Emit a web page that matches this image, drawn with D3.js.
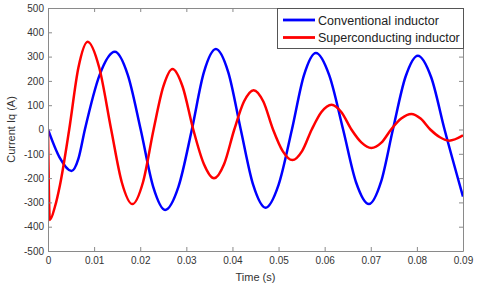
<!DOCTYPE html>
<html>
<head>
<meta charset="utf-8">
<script src="https://cdn.jsdelivr.net/npm/d3@7"></script>
<style>
  body { margin: 0; background: #fff; }
  .chart text { font-family: "Liberation Sans", Arial, sans-serif; }
</style>
</head>
<body>
<div class="chart"></div>
<script>
// values
const seriesNames = ["Conventional inductor", "Superconducting inductor"];
const seriesColors = ["#0000ff", "#ff0000"];

const tConventional = [0, 0.0025, 0.0051, 0.0066, 0.0080, 0.0112, 0.0145, 0.0173, 0.0201, 0.0228, 0.0254, 0.0283,
    0.0312, 0.0338, 0.0364, 0.0391, 0.0418, 0.0445, 0.0472, 0.0500, 0.0529, 0.0555, 0.0581, 0.0610,
    0.0640, 0.0668, 0.0696, 0.0722, 0.0748, 0.0775, 0.0802, 0.0831, 0.0860, 0.0900];
const iConventional = [0, -115, -171, -120, 0, 225, 320, 225, 0, -235, -331, -235,
    0, 235, 331, 235, 0, -228, -322, -228, 0, 223, 315, 223,
    0, -217, -307, -217, 0, 215, 304, 215, 0, -276];

const tSuper = [0, 0.0004, 0.0015, 0.0026, 0.0046, 0.0066, 0.0086, 0.0111, 0.0137, 0.0160, 0.0183, 0.0206,
    0.0229, 0.0250, 0.0270, 0.0292, 0.0315, 0.0338, 0.0360, 0.0382, 0.0404, 0.0425, 0.0446, 0.0467,
    0.0488, 0.0509, 0.0530, 0.0551, 0.0572, 0.0593, 0.0615, 0.0636, 0.0658, 0.0680, 0.0701, 0.0723,
    0.0744, 0.0766, 0.0788, 0.0808, 0.0829, 0.0850, 0.0870, 0.0900];
const iSuper = [0, -372, -318, -228, 0, 255, 361, 255, 0, -217, -307, -217,
    0, 176, 249, 176, 0, -142, -201, -142, 0, 115, 162, 115,
    0, -89, -126, -89, 0, 72, 102, 72, 0, -54, -76, -54,
    0, 45, 64, 45, 0, -32, -46, -24];

const xTicks = [0, 0.01, 0.02, 0.03, 0.04, 0.05, 0.06, 0.07, 0.08, 0.09];
const yTicks = [-500, -400, -300, -200, -100, 0, 100, 200, 300, 400, 500];

const margin = ({top: 8, right: 17, bottom: 33, left: 48});
const width = 480 - margin.left - margin.right,
    height = 284 - margin.top - margin.bottom;

const svg = d3.select(".chart").append("svg")
    .attr("width", width + margin.left + margin.right)
    .attr("height", height + margin.top + margin.bottom)
    .append("g")
    .attr("transform", "translate(" + margin.left + "," + margin.top + ")");

const xScale = d3.scaleLinear().domain([0, 0.09]).range([0, width]);
const yScale = d3.scaleLinear().domain([-500, 500]).range([height, 0]);

const data = [
    tConventional.map((t, i) => ({t: t, v: iConventional[i]})),
    tSuper.map((t, i) => ({t: t, v: iSuper[i]}))
];

svg.append("defs").append("clipPath").attr("id", "clip")
    .append("rect").attr("width", width).attr("height", height);

const line = d3.line()
    .x(d => xScale(d.t))
    .y(d => yScale(d.v))
    .curve(d3.curveMonotoneX);

svg.append("g").attr("clip-path", "url(#clip)")
    .selectAll(".curve")
    .data(data)
    .enter()
    .append("path")
    .attr("class", "curve")
    .attr("d", line)
    .attr("fill", "none")
    .attr("stroke", (d, i) => seriesColors[i])
    .attr("stroke-width", 2.5)
    .attr("stroke-linejoin", "round");

// axes, ticks pointing inwards like matlab
function styleAxis(g) {
    g.selectAll("path.domain").attr("stroke", "#8a8a8a");
    g.selectAll(".tick line").attr("stroke", "#8a8a8a");
    g.selectAll(".tick text")
        .attr("fill", "#333")
        .style("font-size", "10px")
        .style("font-family", '"Liberation Sans", Arial, sans-serif');
}

svg.append("g")
    .attr("transform", `translate(0, ${height})`)
    .call(d3.axisBottom(xScale).tickValues(xTicks)
        .tickFormat(d => d === 0 ? "0" : d.toFixed(2))
        .tickSizeInner(-4).tickSizeOuter(0).tickPadding(6))
    .call(styleAxis);

svg.append("g")
    .call(d3.axisTop(xScale).tickValues(xTicks).tickFormat("")
        .tickSizeInner(-4).tickSizeOuter(0))
    .call(styleAxis);

svg.append("g")
    .call(d3.axisLeft(yScale).tickValues(yTicks)
        .tickFormat(d => String(d))
        .tickSizeInner(-4).tickSizeOuter(0).tickPadding(4))
    .call(styleAxis);

svg.append("g")
    .attr("transform", `translate(${width}, 0)`)
    .call(d3.axisRight(yScale).tickValues(yTicks).tickFormat("")
        .tickSizeInner(-4).tickSizeOuter(0))
    .call(styleAxis);

svg.append("text")
    .attr("x", width / 2)
    .attr("y", height + 30)
    .attr("text-anchor", "middle")
    .attr("fill", "#333")
    .style("font-size", "11px")
    .text("Time (s)");

svg.append("text")
    .attr("transform", `translate(${-margin.left + 15}, ${height / 2}) rotate(-90)`)
    .attr("text-anchor", "middle")
    .attr("fill", "#333")
    .style("font-size", "11px")
    .text("Current Iq (A)");

// legend
const legend = svg.append("g")
    .attr("transform", `translate(${width - 186}, 0)`);

legend.append("rect")
    .attr("x", 0.5).attr("y", 0.5)
    .attr("width", 186).attr("height", 40)
    .attr("fill", "#fff")
    .attr("stroke", "#555");

legend.selectAll(".key")
    .data(seriesNames)
    .enter()
    .append("line")
    .attr("class", "key")
    .attr("x1", 6).attr("x2", 38)
    .attr("y1", (d, i) => 12 + i * 17.5)
    .attr("y2", (d, i) => 12 + i * 17.5)
    .attr("stroke", (d, i) => seriesColors[i])
    .attr("stroke-width", 2.8);

legend.selectAll(".label")
    .data(seriesNames)
    .enter()
    .append("text")
    .attr("class", "label")
    .attr("x", 41)
    .attr("y", (d, i) => 16.5 + i * 17.5)
    .attr("fill", "#222")
    .style("font-size", "12.5px")
    .text(d => d);
</script>
</body>
</html>
